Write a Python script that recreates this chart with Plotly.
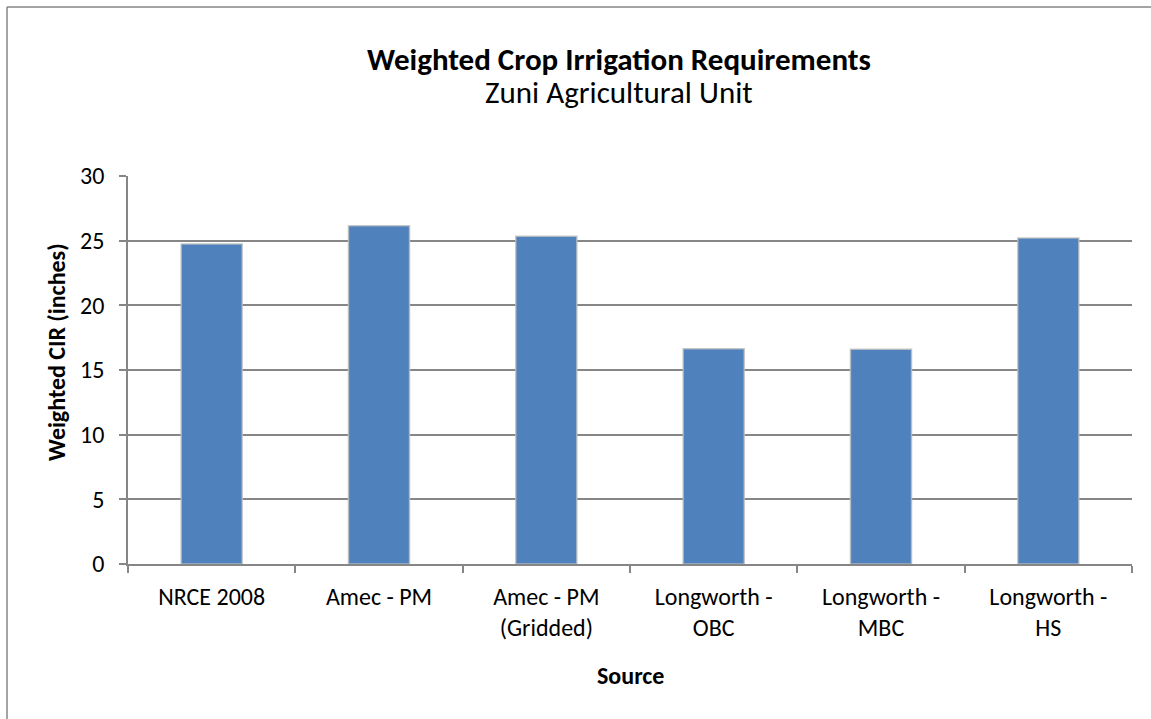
import plotly.graph_objects as go

categories = ["NRCE 2008", "Amec - PM", "Amec - PM<br>(Gridded)", "Longworth -<br>OBC", "Longworth -<br>MBC", "Longworth -<br>HS"]
values = [24.75, 26.15, 25.35, 16.65, 16.6, 25.2]
y_ticks = [0, 5, 10, 15, 20, 25, 30]

W, H = 1151, 719
FONT = "Carlito, Calibri, Lato, sans-serif"
GRAY = "#868686"

def px(x):
    return x / W

def py(y):
    return 1 - y / H

fig = go.Figure()
fig.add_trace(go.Bar(
    x=categories, y=values,
    marker=dict(color="#4F81BD", line=dict(color="rgba(190,190,190,0.8)", width=1.5)),
    width=0.365,
))

fig.update_layout(
    width=W, height=H,
    margin=dict(l=0, r=0, t=0, b=0, autoexpand=False),
    paper_bgcolor="white", plot_bgcolor="white",
    showlegend=False,
    font=dict(family=FONT, size=24, color="black"),
    xaxis=dict(
        domain=[px(128), px(1132)],
        type="category",
        automargin=False,
        showline=True, linecolor=GRAY, linewidth=1.5,
        ticks="outside", ticklen=7, tickcolor=GRAY, tickwidth=1.5,
        tickson="boundaries",
        showgrid=False,
        tickfont=dict(size=24),
        ticklabelstandoff=10,
    ),
    yaxis=dict(
        domain=[py(564), py(176)],
        range=[0, 30],
        tickvals=y_ticks,
        automargin=False,
        showline=True, linecolor=GRAY, linewidth=1.5,
        ticks="outside", ticklen=7, tickcolor=GRAY, tickwidth=1.5,
        showgrid=True, gridcolor=GRAY, gridwidth=1.5,
        zeroline=False,
        tickfont=dict(size=24),
        ticklabelstandoff=10,
    ),
    shapes=[
        dict(type="line", xref="paper", yref="paper",
             x0=px(7), y0=0, x1=px(7), y1=py(7),
             line=dict(color=GRAY, width=1.5)),
        dict(type="line", xref="paper", yref="paper",
             x0=px(7), y0=py(7), x1=1, y1=py(7),
             line=dict(color=GRAY, width=1.5)),
    ],
    annotations=[
        dict(text="<b>Weighted Crop Irrigation Requirements</b>", xref="paper", yref="paper",
             x=px(619), y=py(59), xanchor="center", yanchor="middle", showarrow=False,
             font=dict(size=31)),
        dict(text="Zuni Agricultural Unit", xref="paper", yref="paper",
             x=px(619), y=py(92), xanchor="center", yanchor="middle", showarrow=False,
             font=dict(size=31)),
        dict(text="<b>Source</b>", xref="paper", yref="paper",
             x=px(630), y=py(675), xanchor="center", yanchor="middle", showarrow=False,
             font=dict(size=24)),
        dict(text="<b>Weighted CIR (inches)</b>", xref="paper", yref="paper",
             x=px(57), y=py(352), xanchor="center", yanchor="middle", showarrow=False,
             textangle=-90, font=dict(size=24)),
    ],
)

fig.write_html("out.html", config={"displayModeBar": False},
               post_script="document.body.style.margin='0';document.body.style.overflow='hidden';")
